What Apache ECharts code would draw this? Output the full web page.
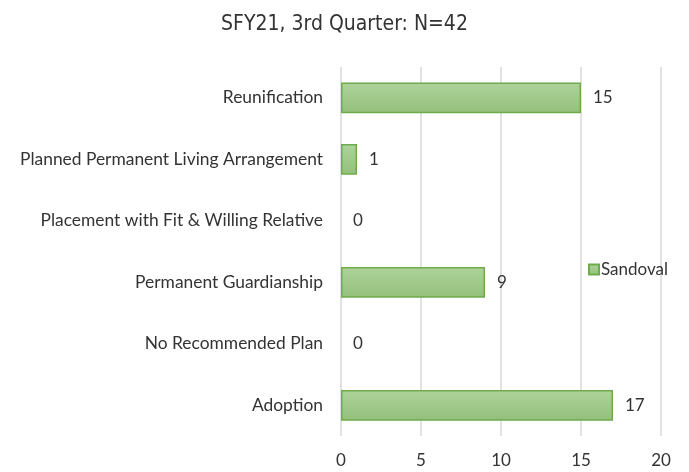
<!DOCTYPE html>
<html>
<head>
<meta charset="utf-8">
<script src="https://cdn.jsdelivr.net/npm/echarts@6/dist/echarts.min.js"></script>
<style>
  html, body { margin: 0; padding: 0; background: #fff; }
  #chart { width: 689px; height: 472px; }
</style>
</head>
<body>
<div id="chart"></div>
<script>
// Permanency plan categories, listed bottom to top as the y axis draws them
const categories = [
  'Adoption',
  'No Recommended Plan',
  'Permanent Guardianship',
  'Placement with Fit & Willing Relative',
  'Planned Permanent Living Arrangement',
  'Reunification'
];
const sandovalValues = [17, 0, 9, 0, 1, 15];
const xTicks = [0, 5, 10, 15, 20];
const seriesName = 'Sandoval';
const titleText = 'SFY21, 3rd Quarter: N=42';

const bodyFont = 'Lato, "Open Sans", sans-serif';
const textColor = '#333333';

const chart = echarts.init(document.getElementById('chart'), null, { renderer: 'canvas' });

const barFill = new echarts.graphic.LinearGradient(0, 0, 0, 1, [
  { offset: 0, color: '#afd39c' },
  { offset: 1, color: '#93c07b' }
]);

// zero-length bars get no outline so nothing is drawn for them
const barData = sandovalValues.map(v => ({
  value: v,
  itemStyle: { borderWidth: v === 0 ? 0 : 1.5 }
}));

chart.setOption({
  animation: false,
  backgroundColor: '#ffffff',
  title: {
    text: titleText,
    left: 'center',
    top: 9,
    textStyle: {
      fontFamily: '"DejaVu Sans Condensed", "Liberation Sans Narrow", sans-serif',
      fontWeight: 'normal',
      fontSize: 21,
      color: textColor
    }
  },
  legend: {
    orient: 'vertical',
    left: 583,
    top: 256,
    itemWidth: 10,
    itemHeight: 10,
    itemGap: 4,
    icon: 'rect',
    data: [seriesName],
    textStyle: {
      fontFamily: bodyFont,
      fontSize: 17,
      color: textColor,
      padding: [0, 0, 0, -3]
    }
  },
  grid: {
    left: 341,
    right: 28,
    top: 67,
    bottom: 36,
    containLabel: false
  },
  xAxis: {
    type: 'value',
    min: 0,
    max: 20,
    interval: 5,
    axisLine: { show: false },
    axisTick: { show: false },
    splitLine: { show: true, lineStyle: { color: '#d9d9d9', width: 1.5 } },
    axisLabel: {
      margin: 16,
      fontFamily: bodyFont,
      fontSize: 17,
      color: textColor,
      formatter: v => (xTicks.indexOf(v) >= 0 ? String(v) : '')
    }
  },
  yAxis: {
    type: 'category',
    data: categories,
    axisLine: { show: false },
    axisTick: { show: false },
    splitLine: { show: false },
    axisLabel: {
      margin: 18,
      fontFamily: bodyFont,
      fontSize: 17.4,
      color: textColor
    }
  },
  series: [{
    name: seriesName,
    type: 'bar',
    data: barData,
    barWidth: '50%',
    itemStyle: {
      color: barFill,
      borderColor: '#6fab4c',
      borderWidth: 1.5
    },
    label: {
      show: true,
      position: 'right',
      distance: 12,
      fontFamily: bodyFont,
      fontSize: 17,
      color: textColor
    }
  }]
});
</script>
</body>
</html>
